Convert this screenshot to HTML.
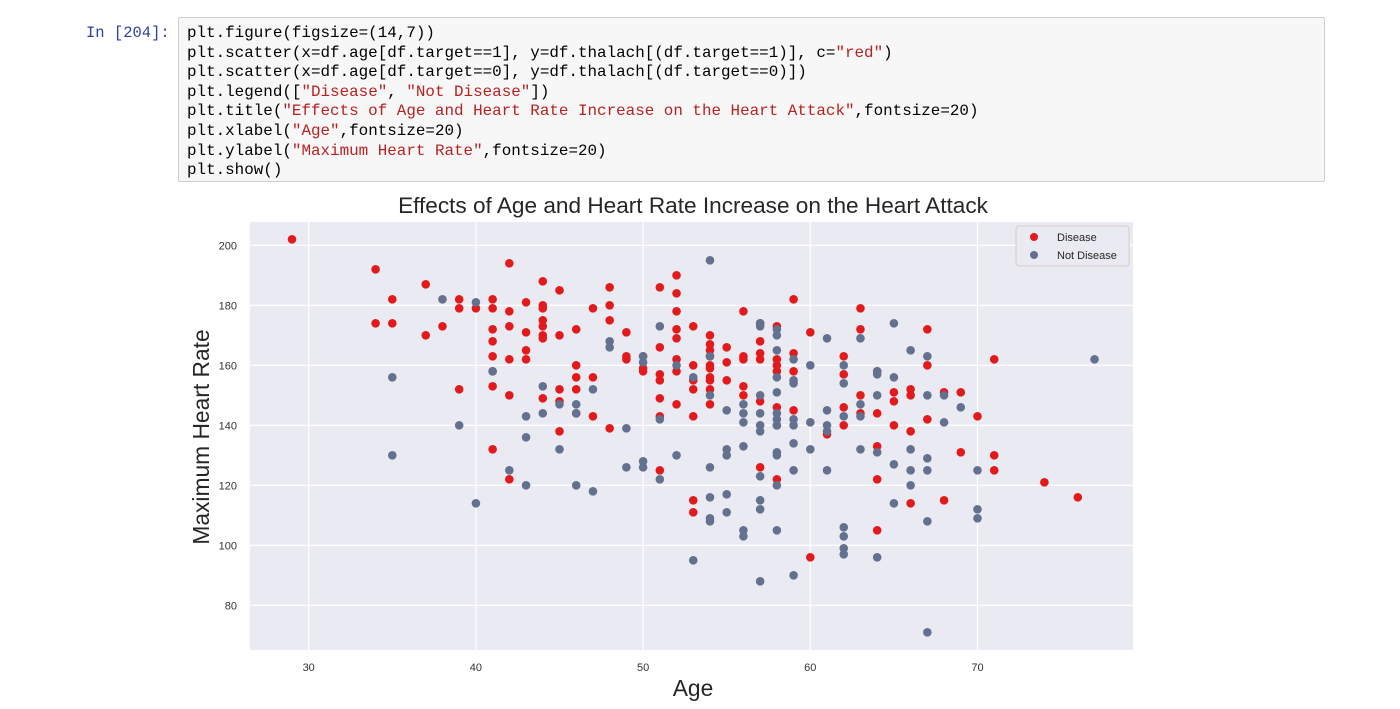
<!DOCTYPE html>
<html><head><meta charset="utf-8"><style>
body{margin:0;width:1400px;height:709px;background:#fff;overflow:hidden;font-family:"Liberation Sans",sans-serif;position:relative}
.prompt{position:absolute;left:86px;top:24px;font:15.5px "Liberation Mono",monospace;color:#303f9f}
.cell{position:absolute;left:178px;top:17px;width:1147px;height:165px;background:#f7f7f7;border:1px solid #cfcfcf;border-radius:2px;box-sizing:border-box}
.code{position:absolute;left:8px;top:6px;margin:0;font:15.9px/19.6px "Liberation Mono",monospace;color:#000}
.s{color:#ba2121}
</style></head><body>
<div class="prompt">In [204]:</div>
<div class="cell"><pre class="code">plt.figure(figsize=(14,7))
plt.scatter(x=df.age[df.target==1], y=df.thalach[(df.target==1)], c=<span class="s">"red"</span>)
plt.scatter(x=df.age[df.target==0], y=df.thalach[(df.target==0)])
plt.legend([<span class="s">"Disease"</span>, <span class="s">"Not Disease"</span>])
plt.title(<span class="s">"Effects of Age and Heart Rate Increase on the Heart Attack"</span>,fontsize=20)
plt.xlabel(<span class="s">"Age"</span>,fontsize=20)
plt.ylabel(<span class="s">"Maximum Heart Rate"</span>,fontsize=20)
plt.show()</pre></div>
<svg id="chart" width="1400" height="709" style="position:absolute;left:0;top:0"></svg>
<script>
const xTicks=[30,40,50,60,70];
const yTicks=[80,100,120,140,160,180,200];
const diseaseAge=[29,34,34,35,35,37,37,38,39,39,39,40,41,41,41,41,41,41,41,41,42,42,42,42,42,42,43,43,43,43,44,44,44,44,44,44,44,44,45,45,45,45,45,46,46,46,46,46,47,47,47,48,48,48,48,49,49,49,50,50,50,51,51,51,51,51,51,51,52,52,52,52,52,52,52,52,53,53,53,53,53,53,53,54,54,54,54,54,54,54,54,54,54,55,55,55,56,56,56,56,56,57,57,57,57,57,57,58,58,58,58,58,58,58,59,59,59,59,60,60,61,62,62,62,62,63,63,63,63,64,64,64,64,64,65,65,65,66,66,66,66,67,67,67,68,68,69,69,70,71,71,71,74,76];
const diseaseHR=[202,192,174,182,174,187,170,173,182,179,152,179,182,179,172,168,163,158,153,132,194,178,173,162,150,122,181,171,165,162,188,180,179,175,173,170,169,149,185,170,152,148,138,172,160,156,152,144,179,156,143,186,180,175,139,171,163,162,163,159,158,186,166,157,155,149,143,125,190,184,178,172,169,162,158,147,173,160,155,152,143,115,111,170,167,165,163,160,159,156,155,152,147,166,161,155,178,163,162,153,150,174,168,164,162,148,126,173,162,160,158,146,140,122,182,164,158,145,171,96,137,163,157,146,140,179,172,150,144,158,144,133,122,105,151,148,140,152,150,138,114,172,160,142,151,115,151,131,143,162,130,125,121,116];
const healthyAge=[35,35,38,39,40,40,41,42,43,43,43,44,44,45,45,46,46,46,47,47,48,48,49,49,50,50,50,50,51,51,51,52,52,53,53,54,54,54,54,54,54,54,55,55,55,55,55,56,56,56,56,56,56,57,57,57,57,57,57,57,57,57,57,58,58,58,58,58,58,58,58,58,58,58,58,59,59,59,59,59,59,59,59,60,60,60,61,61,61,61,61,62,62,62,62,62,62,62,63,63,63,63,64,64,64,64,64,65,65,65,65,66,66,66,66,67,67,67,67,67,67,68,68,69,70,70,70,77];
const healthyHR=[156,130,182,140,181,114,158,125,143,136,120,153,144,147,132,147,144,120,152,118,168,166,139,126,163,161,128,126,173,142,122,160,130,156,95,195,163,150,126,116,109,108,145,132,130,117,111,147,144,141,133,105,103,174,173,150,144,140,138,123,115,112,88,172,170,165,156,151,144,142,140,131,130,120,105,162,155,154,142,140,134,125,90,160,141,132,169,145,140,138,125,160,154,143,106,103,99,97,169,147,143,132,158,157,150,131,96,174,156,127,114,165,132,125,120,163,150,129,125,108,71,150,141,146,125,112,109,162];

const NS='http://www.w3.org/2000/svg';
const svg=document.getElementById('chart');
const L=250,R=1133,T=222,B=650;
const sx=a=>308.7+(a-30)*16.72;
const sy=v=>245.3+(200-v)*3.0;
function mk(tag,attrs,parent){const e=document.createElementNS(NS,tag);for(const k in attrs)e.setAttribute(k,attrs[k]);(parent||svg).appendChild(e);return e;}
const bg=mk('rect',{x:L,y:T,width:R-L,height:B-T,fill:'#eaeaf2'});


xTicks.forEach(t=>{
  const g=mk('line',{x1:sx(t),x2:sx(t),y1:T,y2:B,stroke:'#fff','stroke-width':1.2});
  
  
  const tx=mk('text',{x:sx(t),y:671,'text-anchor':'middle','font-size':11,fill:'#333','font-family':'Liberation Sans'});
  tx.textContent=t;
  
  
});
yTicks.forEach(t=>{
  const g=mk('line',{x1:L,x2:R,y1:sy(t),y2:sy(t),stroke:'#fff','stroke-width':1.2});
  
  
  const tx=mk('text',{x:237,y:sy(t)+4,'text-anchor':'end','font-size':11,fill:'#333','font-family':'Liberation Sans'});
  tx.textContent=t;
  
  
});
diseaseAge.forEach((a,i)=>{
  const c=mk('circle',{cx:sx(a),cy:sy(diseaseHR[i]),r:4.3,fill:'#e31a1c'});
  
  
});
healthyAge.forEach((a,i)=>{
  const c=mk('circle',{cx:sx(a),cy:sy(healthyHR[i]),r:4.3,fill:'#63708e'});
  
  
});
const title=mk('text',{x:693,y:213,'text-anchor':'middle','font-size':22.6,fill:'#262626','font-family':'Liberation Sans'});
title.textContent='Effects of Age and Heart Rate Increase on the Heart Attack';


const xl=mk('text',{x:693,y:696,'text-anchor':'middle','font-size':22.8,fill:'#262626','font-family':'Liberation Sans'});
xl.textContent='Age';


const yl=mk('text',{x:0,y:0,'text-anchor':'middle','font-size':22.8,fill:'#262626','font-family':'Liberation Sans',transform:'translate(209,437) rotate(-90)'});
yl.textContent='Maximum Heart Rate';


const lg=mk('g',{});


mk('rect',{x:1016,y:226,width:113,height:40,rx:3,fill:'#eaeaf2',stroke:'#d8cccc','stroke-width':1},lg);
const entries=[['Disease','#e31a1c',237],['Not Disease','#63708e',255]];
entries.forEach(e=>{
  const c=mk('circle',{cx:1034,cy:e[2],r:4,fill:e[1]},lg);
  
  
  const t=mk('text',{x:1057,y:e[2]+4,'font-size':11,fill:'#262626','font-family':'Liberation Sans'},lg);
  t.textContent=e[0];
  
  
});
</script>
</body></html>
